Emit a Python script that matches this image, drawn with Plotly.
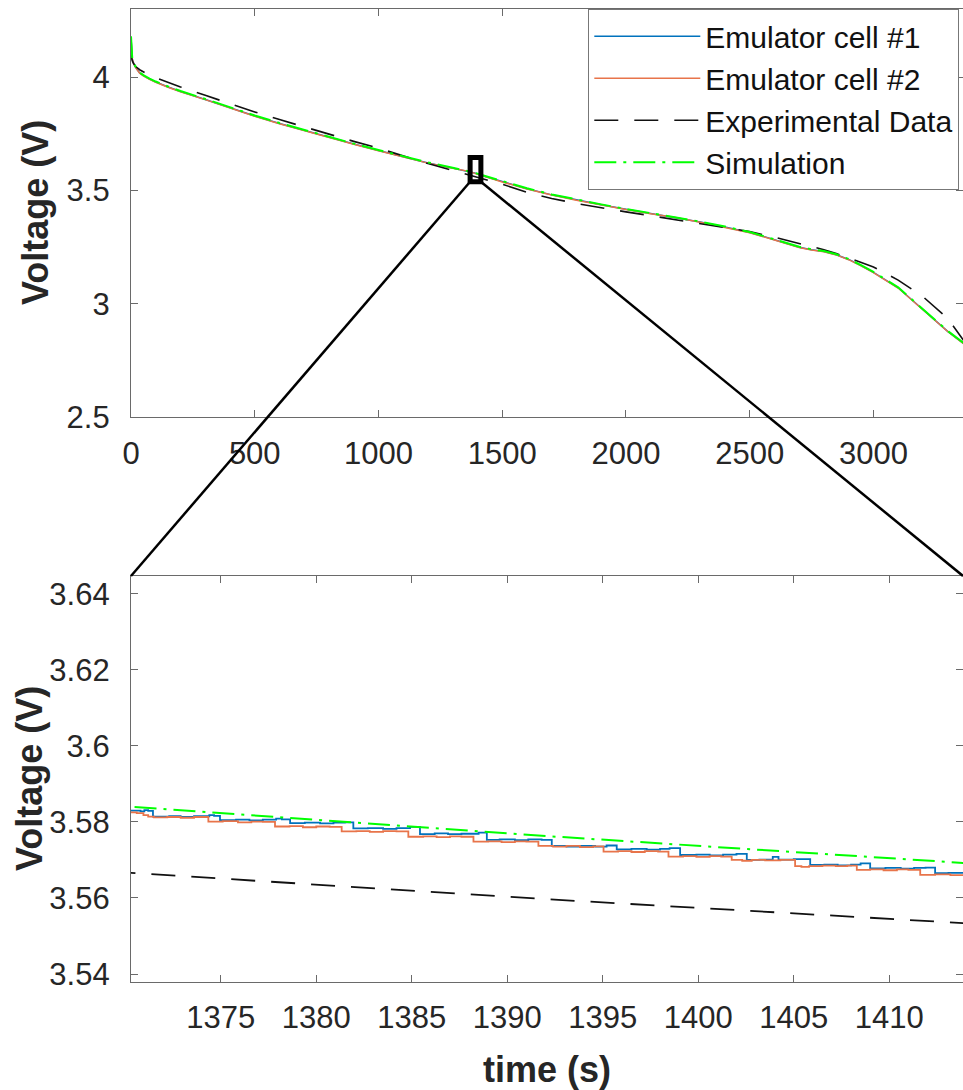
import plotly.graph_objects as go

# ---- Full discharge (top panel) ----
time_s = [0, 2, 5, 10, 20, 35, 50, 75, 100, 150, 200, 300, 400, 500, 600, 700, 800,
          900, 1000, 1100, 1200, 1300, 1370, 1392, 1414, 1500, 1600, 1700, 1800, 1900,
          2000, 2100, 2200, 2300, 2400, 2500, 2600, 2700, 2750, 2800, 2850, 2900, 2950,
          3000, 3100, 3200, 3300, 3365]
sim_v = [4.180, 4.100, 4.082, 4.064, 4.042, 4.020, 4.008, 3.993, 3.980, 3.958, 3.938,
         3.903, 3.866, 3.830, 3.797, 3.766, 3.735, 3.706, 3.678, 3.649, 3.623, 3.600,
         3.5841, 3.5763, 3.5684, 3.540, 3.509, 3.482, 3.459, 3.438, 3.418, 3.400, 3.383,
         3.362, 3.340, 3.316, 3.284, 3.251, 3.240, 3.232, 3.218, 3.197, 3.170, 3.140,
         3.072, 2.976, 2.880, 2.826]
exp_v = [4.100, 4.085, 4.072, 4.060, 4.045, 4.032, 4.022, 4.008, 3.996, 3.975, 3.956,
         3.919, 3.882, 3.846, 3.812, 3.779, 3.747, 3.716, 3.686, 3.652, 3.618, 3.588,
         3.5667, 3.5597, 3.5529, 3.527, 3.491, 3.464, 3.442, 3.422, 3.405, 3.388, 3.371,
         3.354, 3.336, 3.318, 3.293, 3.266, 3.252, 3.238, 3.221, 3.201, 3.183, 3.162,
         3.104, 3.031, 2.935, 2.837]
cell1_v = [4.175, 4.098, 4.080, 4.062, 4.040, 4.018, 4.006, 3.991, 3.978, 3.956, 3.936,
           3.901, 3.864, 3.828, 3.795, 3.764, 3.733, 3.704, 3.676, 3.647, 3.621, 3.598,
           3.5830, 3.5753, 3.5665, 3.538, 3.507, 3.480, 3.457, 3.436, 3.416, 3.398, 3.381,
           3.360, 3.338, 3.314, 3.282, 3.249, 3.238, 3.230, 3.216, 3.195, 3.168, 3.138,
           3.070, 2.974, 2.878, 2.824]
cell2_v = [4.174, 4.097, 4.079, 4.061, 4.039, 4.017, 4.005, 3.990, 3.977, 3.955, 3.935,
           3.900, 3.863, 3.827, 3.794, 3.763, 3.732, 3.703, 3.675, 3.646, 3.620, 3.597,
           3.5825, 3.5737, 3.5661, 3.537, 3.506, 3.479, 3.456, 3.435, 3.415, 3.397, 3.380,
           3.359, 3.337, 3.313, 3.281, 3.248, 3.237, 3.229, 3.215, 3.194, 3.167, 3.137,
           3.069, 2.973, 2.877, 2.823]

# ---- Detail window (bottom panel): sampled emulator output ----
cell1_zoom_t = [1370.2, 1370.8, 1371.0, 1371.2, 1371.45, 1372.3, 1372.9, 1373.6, 1374.4,
                1374.65, 1374.96, 1375.8, 1376.5, 1377.2, 1377.9, 1378.2, 1378.63, 1379.4,
                1380.2, 1380.9, 1381.5, 1381.94, 1382.7, 1383.5, 1384.2, 1384.91, 1385.43,
                1386.2, 1386.9, 1387.6, 1388.5, 1388.93, 1389.6, 1390.4, 1391.1, 1391.8,
                1392.33, 1393.1, 1393.8, 1394.6, 1395.2, 1395.73, 1396.5, 1397.3, 1398.0,
                1398.5, 1399.05, 1399.9, 1400.6, 1401.3, 1402.0, 1402.54, 1403.2, 1403.9,
                1404.2, 1405.0, 1405.86, 1406.6, 1407.3, 1408.0, 1408.5, 1409.0, 1409.8,
                1410.6, 1411.3, 1411.9, 1412.4, 1413.1, 1414.0]
cell1_zoom_v = [3.5830, 3.5828, 3.5831, 3.5829, 3.5814, 3.5815, 3.5813, 3.5815, 3.5818,
                3.5816, 3.5805, 3.5806, 3.5804, 3.5806, 3.5809, 3.5807, 3.5797, 3.5798,
                3.5796, 3.5798, 3.5799, 3.5783, 3.5784, 3.5782, 3.5784, 3.5787, 3.5768,
                3.5770, 3.5768, 3.5769, 3.5772, 3.5753, 3.5754, 3.5752, 3.5754, 3.5753,
                3.5737, 3.5735, 3.5737, 3.5735, 3.5738, 3.5728, 3.5729, 3.5727, 3.5729,
                3.5731, 3.5713, 3.5714, 3.5712, 3.5714, 3.5716, 3.5700, 3.5701, 3.5708,
                3.5701, 3.5702, 3.5687, 3.5688, 3.5686, 3.5688, 3.5691, 3.5678, 3.5679,
                3.5677, 3.5679, 3.5680, 3.5665, 3.5666, 3.5665]
cell2_zoom_t = [1370.2, 1370.6, 1370.95, 1371.2, 1371.5, 1372.2, 1372.9, 1373.6, 1374.35,
                1375.1, 1375.9, 1376.6, 1377.2, 1377.84, 1378.6, 1379.3, 1380.0, 1380.7,
                1381.33, 1382.1, 1382.8, 1383.5, 1384.2, 1384.82, 1385.6, 1386.3, 1387.0,
                1387.6, 1388.23, 1389.0, 1389.7, 1390.4, 1391.0, 1391.63, 1392.4, 1393.1,
                1393.8, 1394.5, 1395.04, 1395.8, 1396.5, 1397.2, 1397.9, 1398.44, 1399.2,
                1399.9, 1400.6, 1401.2, 1401.75, 1402.3, 1402.8, 1403.5, 1404.3, 1405.07,
                1405.4, 1405.8, 1406.5, 1407.2, 1407.8, 1408.30, 1409.0, 1409.7, 1410.4,
                1411.0, 1411.62, 1412.4, 1413.2, 1414.0]
cell2_zoom_v = [3.5825, 3.5823, 3.5818, 3.5814, 3.5812, 3.5813, 3.5811, 3.5813, 3.5801,
                3.5802, 3.5799, 3.5801, 3.5800, 3.5788, 3.5789, 3.5786, 3.5788, 3.5787,
                3.5775, 3.5776, 3.5774, 3.5776, 3.5775, 3.5761, 3.5762, 3.5760, 3.5762,
                3.5761, 3.5748, 3.5749, 3.5747, 3.5749, 3.5748, 3.5737, 3.5735, 3.5737,
                3.5734, 3.5736, 3.5722, 3.5723, 3.5721, 3.5723, 3.5722, 3.5709, 3.5710,
                3.5708, 3.5710, 3.5709, 3.5700, 3.5698, 3.5700, 3.5699, 3.5700, 3.5684,
                3.5682, 3.5684, 3.5685, 3.5684, 3.5685, 3.5674, 3.5675, 3.5673, 3.5675,
                3.5674, 3.5661, 3.5662, 3.5660, 3.5661]

# ---- Axis limits and ticks ----
full_t_range = [0, 3362]
full_v_range = [2.5, 4.3]
full_t_ticks = [0, 500, 1000, 1500, 2000, 2500, 3000]
full_v_ticks = [2.5, 3, 3.5, 4]
full_v_text = ["2.5", "3", "3.5", "4"]
zoom_t_range = [1370.3, 1413.86]
zoom_v_range = [3.5379, 3.6447]
zoom_t_ticks = [1375, 1380, 1385, 1390, 1395, 1400, 1405, 1410]
zoom_v_ticks = [3.54, 3.56, 3.58, 3.60, 3.62, 3.64]
zoom_v_text = ["3.54", "3.56", "3.58", "3.6", "3.62", "3.64"]

labels = ["Emulator cell #1", "Emulator cell #2", "Experimental Data", "Simulation"]
y_title = "Voltage (V)"
x_title = "time (s)"

C_BLUE = "#0072BD"
C_ORANGE = "#E8744A"
C_GREEN = "#00FF00"
C_BLACK = "#111111"
AX = "#6a6a6a"
FONT = "Liberation Sans, Arial, sans-serif"

TOP_DOM = [0.5807, 1.0]
BOT_DOM = [0.0, 0.4173]
PLOT_LEFT_PX = 131
PLOT_W_PX = 832

fig = go.Figure()

# top panel
fig.add_trace(go.Scatter(x=time_s, y=cell1_v, name=labels[0], mode="lines",
                         line=dict(color=C_BLUE, width=1.5), xaxis="x", yaxis="y"))
fig.add_trace(go.Scatter(x=time_s, y=cell2_v, name=labels[1], mode="lines",
                         line=dict(color=C_ORANGE, width=1.5), xaxis="x", yaxis="y"))
fig.add_trace(go.Scatter(x=time_s, y=exp_v, name=labels[2], mode="lines",
                         line=dict(color=C_BLACK, width=1.6, dash="24px,16px"),
                         xaxis="x", yaxis="y"))
fig.add_trace(go.Scatter(x=time_s, y=sim_v, name=labels[3], mode="lines",
                         line=dict(color=C_GREEN, width=2, dash="22px,7px,3px,7px"),
                         xaxis="x", yaxis="y"))

# bottom panel
fig.add_trace(go.Scatter(x=cell1_zoom_t, y=cell1_zoom_v, mode="lines", line_shape="hv",
                         line=dict(color=C_BLUE, width=1.8), showlegend=False,
                         xaxis="x2", yaxis="y2"))
fig.add_trace(go.Scatter(x=cell2_zoom_t, y=cell2_zoom_v, mode="lines", line_shape="hv",
                         line=dict(color=C_ORANGE, width=1.8), showlegend=False,
                         xaxis="x2", yaxis="y2"))
fig.add_trace(go.Scatter(x=time_s, y=exp_v, mode="lines",
                         line=dict(color=C_BLACK, width=1.8, dash="24px,16px"),
                         showlegend=False, xaxis="x2", yaxis="y2"))
fig.add_trace(go.Scatter(x=time_s, y=sim_v, mode="lines",
                         line=dict(color=C_GREEN, width=2, dash="22px,7px,3px,7px"),
                         showlegend=False, xaxis="x2", yaxis="y2"))

axis_common = dict(showline=True, linecolor=AX, linewidth=1.3, mirror="ticks",
                   ticks="inside", ticklen=7, tickwidth=1.3, tickcolor=AX,
                   showgrid=False, zeroline=False,
                   tickfont=dict(family=FONT, size=31, color="#262626"))
title_font = dict(family=FONT, size=36, color="#262626", weight="bold")

fig.update_layout(
    width=963, height=1090,
    margin=dict(l=PLOT_LEFT_PX, r=0, t=9, b=108),
    paper_bgcolor="white", plot_bgcolor="white",
    showlegend=True,
    legend=dict(x=(588 - PLOT_LEFT_PX) / PLOT_W_PX, y=1.0, xanchor="left", yanchor="top",
                bgcolor="white", bordercolor="#777777", borderwidth=1.3,
                font=dict(family=FONT, size=30, color="#111111"),
                itemwidth=106, tracegroupgap=0,
                entrywidth=380, entrywidthmode="pixels"),
    xaxis=dict(domain=[0, 1], anchor="y", range=full_t_range, tickvals=full_t_ticks,
               ticklabelstandoff=9, **axis_common),
    yaxis=dict(domain=TOP_DOM, anchor="x", range=full_v_range, tickvals=full_v_ticks,
               ticktext=full_v_text, ticklabelstandoff=14, **axis_common),
    xaxis2=dict(domain=[0, 1], anchor="y2", range=zoom_t_range, tickvals=zoom_t_ticks,
                ticklabelstandoff=8,
                title=dict(text=x_title, font=title_font, standoff=22), **axis_common),
    yaxis2=dict(domain=BOT_DOM, anchor="x2", range=zoom_v_range, tickvals=zoom_v_ticks,
                ticktext=zoom_v_text, ticklabelstandoff=14, **axis_common),
)

# rotated y-axis titles, placed beside each panel's tick labels
for dom, title_x_px in ((TOP_DOM, 36), (BOT_DOM, 30)):
    fig.add_annotation(text=y_title, textangle=-90, showarrow=False,
                       xref="paper", yref="paper",
                       x=(title_x_px - PLOT_LEFT_PX) / PLOT_W_PX, y=(dom[0] + dom[1]) / 2,
                       xanchor="center", yanchor="middle", font=title_font)

# zoom window marker on the full curve
fig.add_shape(type="rect", xref="x", yref="y",
              x0=zoom_t_range[0], x1=zoom_t_range[1], y0=zoom_v_range[0], y1=zoom_v_range[1],
              line=dict(color="black", width=5), fillcolor="rgba(0,0,0,0)")

# connector lines from the marker to the detail panel (paper coordinates)
def to_paper_x(t):
    return (t - full_t_range[0]) / (full_t_range[1] - full_t_range[0])


def to_paper_y(v):
    frac = (v - full_v_range[0]) / (full_v_range[1] - full_v_range[0])
    return TOP_DOM[0] + frac * (TOP_DOM[1] - TOP_DOM[0])


corner_y = to_paper_y(zoom_v_range[0])
for t_corner, x_end in ((zoom_t_range[0], 0.0), (zoom_t_range[1], 1.0)):
    fig.add_shape(type="line", xref="paper", yref="paper",
                  x0=to_paper_x(t_corner), y0=corner_y, x1=x_end, y1=BOT_DOM[1],
                  line=dict(color="black", width=2.5))

fig.write_html("out.html")
